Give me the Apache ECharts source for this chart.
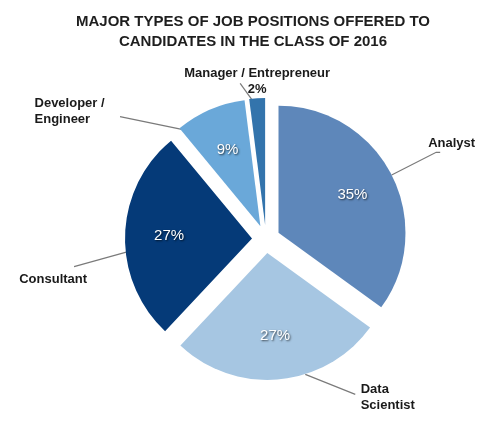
<!DOCTYPE html>
<html>
<head>
<meta charset="utf-8">
<script src="https://cdn.jsdelivr.net/npm/echarts@6/dist/echarts.min.js"></script>
<style>
html,body{margin:0;padding:0;background:#fff;}
#chart{width:484px;height:435px;}
</style>
</head>
<body>
<div id="chart"></div>
<script>
const categories = ['Analyst', 'Data\nScientist', 'Consultant', 'Developer /\nEngineer', 'Manager / Entrepreneur'];
const shares = [35, 27, 27, 9, 2];
const colors = ['#5e87ba', '#a6c6e2', '#053a78', '#6aa8d9', '#3374ac'];

// label placement tweaks (layout only)
const lineLen = [50, 15, 10, 1, 17];
const lineLen2 = [4, 75, 40, 100, 1];
const labelPad = [[0,0,18,0],[6,0,0,0],[90,0,0,0],[6,0,0,0],[0,0,0,0]];
const labelDist = [-12, 5, -12, 5, -75];
// leader line: shift of start point and direction vector (null = library default)
const leaderShift = [null, [26,-5], [3,17], [-27,20], [-4,3]];
const leaderVec = [null, [50,20], [-54,15], [-63,-13], [-13,-18]];

const chart = echarts.init(document.getElementById('chart'), null, {renderer: 'canvas'});

const outerData = categories.map((c, i) => ({
  name: c,
  value: shares[i],
  selected: true,
  itemStyle: {color: colors[i]},
  labelLine: {length: lineLen[i], length2: lineLen2[i]},
  label: {
    padding: labelPad[i],
    distanceToLabelLine: labelDist[i],
    formatter: i === 4 ? '{ctr|{b}}\n{ctr|{d}%}' : (i === 3 ? '{lft|Developer /}\n{lft|Engineer}' : '{b}')
  }
}));

const innerData = categories.map((c, i) => ({
  name: c,
  value: shares[i],
  selected: true,
  label: {show: i !== 4}
}));

const labelFont = {fontFamily: 'Liberation Sans, Arial, sans-serif', fontSize: 13, fontWeight: 'bold', color: '#1a1a1a', lineHeight: 16};

chart.setOption({
  animation: false,
  title: {
    text: 'MAJOR TYPES OF JOB POSITIONS OFFERED TO\nCANDIDATES IN THE CLASS OF 2016',
    left: 248,
    top: 7,
    textAlign: 'center',
    textStyle: {
      fontFamily: 'Liberation Sans, Arial, sans-serif',
      fontSize: 15,
      fontWeight: 'bold',
      color: '#1e1e1e',
      lineHeight: 20
    }
  },
  series: [
    {
      type: 'pie',
      silent: true,
      center: [266, 239],
      radius: [0, 127],
      startAngle: 90,
      clockwise: true,
      selectedMode: 'multiple',
      selectedOffset: 14,
      avoidLabelOverlap: false,
      data: outerData,
      itemStyle: {borderWidth: 0},
      select: {itemStyle: {borderWidth: 0}},
      emphasis: {disabled: true},
      label: Object.assign({
        show: true,
        position: 'outside',
        rich: {
          ctr: Object.assign({align: 'center'}, labelFont),
          lft: Object.assign({align: 'left'}, labelFont)
        }
      }, labelFont),
      labelLine: {
        show: true,
        lineStyle: {color: '#7a7a7a', width: 1.2}
      },
      labelLayout: function (params) {
        const i = params.dataIndex;
        const pts = params.labelLinePoints;
        if (!leaderShift[i] || !pts) return {};
        const s = [pts[0][0] + leaderShift[i][0], pts[0][1] + leaderShift[i][1]];
        const e = [s[0] + leaderVec[i][0], s[1] + leaderVec[i][1]];
        return {labelLinePoints: [s, e]};
      }
    },
    {
      type: 'pie',
      silent: true,
      center: [266, 239],
      radius: [33, 127],
      startAngle: 90,
      clockwise: true,
      selectedMode: 'multiple',
      selectedOffset: 14,
      data: innerData,
      itemStyle: {color: 'transparent', borderWidth: 0},
      select: {itemStyle: {color: 'transparent', borderWidth: 0}},
      emphasis: {disabled: true},
      labelLine: {show: false},
      label: {
        show: true,
        position: 'inside',
        formatter: '{d}%',
        fontFamily: 'Liberation Sans, Arial, sans-serif',
        fontSize: 15,
        color: '#ffffff',
        textBorderWidth: 0,
        textShadowColor: 'rgba(0,0,0,0.7)',
        textShadowBlur: 2,
        textShadowOffsetX: 1,
        textShadowOffsetY: 1
      }
    }
  ]
});
</script>
</body>
</html>
